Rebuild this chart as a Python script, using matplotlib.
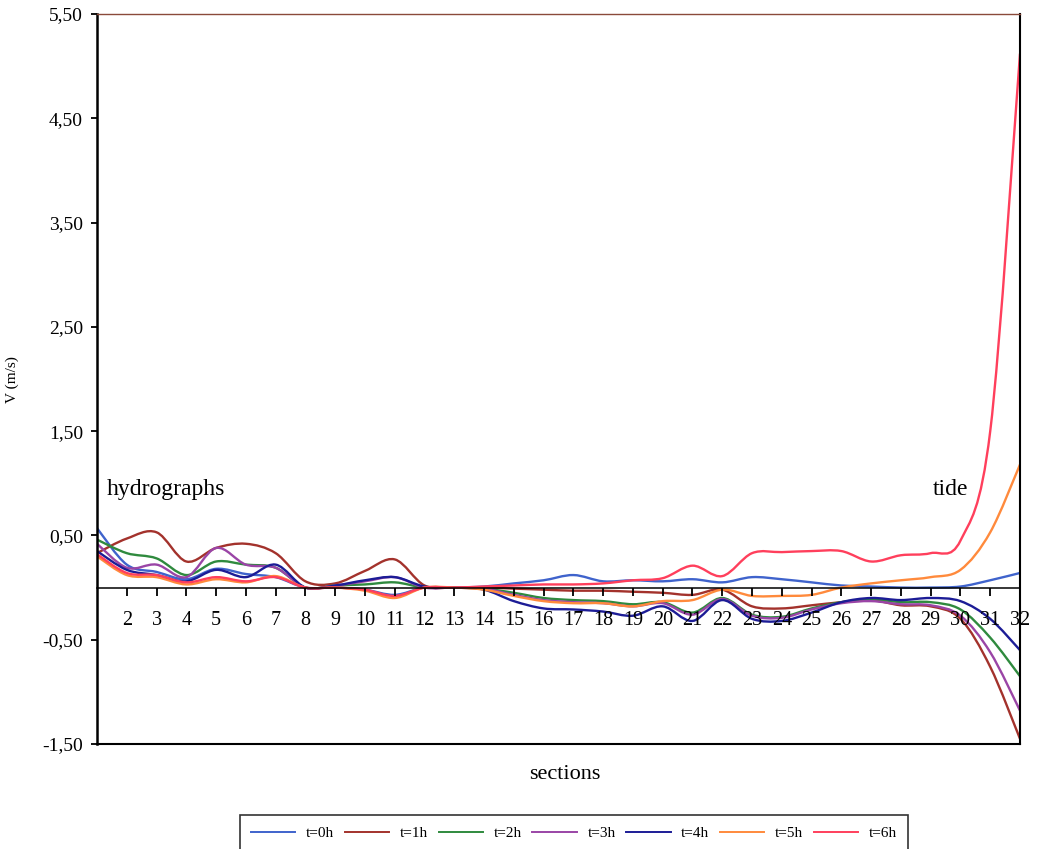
import numpy as np
import matplotlib.pyplot as plt
from matplotlib.path import Path
from matplotlib.patches import PathPatch
from matplotlib.lines import Line2D
from matplotlib.ticker import FuncFormatter

plt.rcParams['font.family'] = ['Liberation Serif', 'DejaVu Serif']

# sections along the channel
sections = np.arange(1, 33)

# velocity (m/s) per section
t0h = [0.57, 0.22, 0.15, 0.08, 0.18, 0.13, 0.10, 0.00, 0.00, -0.02, -0.07, 0.00, 0.00, 0.01, 0.04, 0.07,
       0.12, 0.06, 0.07, 0.06, 0.08, 0.05, 0.10, 0.08, 0.05, 0.02, 0.01, 0.00, 0.00, 0.01, 0.07, 0.14]
t1h = [0.33, 0.47, 0.53, 0.25, 0.38, 0.42, 0.33, 0.06, 0.04, 0.16, 0.27, 0.02, 0.00, 0.00, -0.01, -0.02,
       -0.03, -0.03, -0.04, -0.05, -0.07, -0.02, -0.18, -0.20, -0.17, -0.14, -0.12, -0.17, -0.18, -0.30, -0.76, -1.45]
t2h = [0.46, 0.33, 0.28, 0.12, 0.25, 0.22, 0.19, 0.00, 0.02, 0.03, 0.05, 0.00, 0.00, -0.01, -0.05, -0.10,
       -0.12, -0.13, -0.16, -0.14, -0.24, -0.10, -0.26, -0.28, -0.20, -0.14, -0.11, -0.14, -0.14, -0.21, -0.48, -0.85]
t3h = [0.42, 0.19, 0.22, 0.10, 0.38, 0.22, 0.19, 0.00, 0.02, 0.06, 0.10, 0.00, 0.00, -0.01, -0.07, -0.12,
       -0.14, -0.15, -0.18, -0.15, -0.26, -0.11, -0.27, -0.29, -0.21, -0.15, -0.13, -0.16, -0.17, -0.27, -0.62, -1.18]
t4h = [0.35, 0.17, 0.12, 0.06, 0.17, 0.10, 0.22, 0.00, 0.02, 0.07, 0.10, 0.01, 0.00, -0.02, -0.13, -0.20,
       -0.21, -0.23, -0.27, -0.18, -0.32, -0.12, -0.30, -0.32, -0.24, -0.14, -0.10, -0.12, -0.10, -0.13, -0.30, -0.60]
t5h = [0.30, 0.12, 0.10, 0.03, 0.08, 0.05, 0.11, 0.00, 0.00, -0.03, -0.10, 0.00, 0.00, -0.02, -0.08, -0.13,
       -0.15, -0.15, -0.18, -0.13, -0.12, -0.02, -0.08, -0.08, -0.07, 0.00, 0.04, 0.07, 0.10, 0.17, 0.53, 1.18]
t6h = [0.32, 0.14, 0.12, 0.05, 0.10, 0.06, 0.10, 0.00, 0.00, -0.02, -0.08, 0.00, 0.00, 0.01, 0.02, 0.03,
       0.03, 0.04, 0.07, 0.09, 0.21, 0.11, 0.33, 0.34, 0.35, 0.35, 0.25, 0.31, 0.33, 0.45, 1.50, 5.12]

series = [t0h, t1h, t2h, t3h, t4h, t5h, t6h]
names = ['t=0h', 't=1h', 't=2h', 't=3h', 't=4h', 't=5h', 't=6h']
colors = ['#3f63cc', '#a3322c', '#2f8a3e', '#9a45a6', '#1c1c96', '#ff8a3c', '#ff3f5c']

yticks = [-1.5, -0.5, 0.5, 1.5, 2.5, 3.5, 4.5, 5.5]


def smooth_path(x, y):
    # bezier through the points, like a spreadsheet "smoothed line"
    p = np.column_stack([x, y]).astype(float)
    n = len(p)
    verts = [p[0]]
    codes = [Path.MOVETO]
    for i in range(n - 1):
        p0 = p[max(i - 1, 0)]
        p1 = p[i]
        p2 = p[i + 1]
        p3 = p[min(i + 2, n - 1)]
        c1 = p1 + (p2 - p0) / 6.0
        c2 = p2 - (p3 - p1) / 6.0
        verts += [c1, c2, p2]
        codes += [Path.CURVE4] * 3
    return Path(verts, codes)


fig = plt.figure(figsize=(10.39, 8.49), dpi=100)
ax = fig.add_axes([97 / 1039, 1 - 744 / 849, 923 / 1039, 730 / 849])

for vals, c in zip(series, colors):
    ax.add_patch(PathPatch(smooth_path(sections, vals), fill=False, edgecolor=c, lw=1.7))

ax.set_xlim(1, 32)
ax.set_ylim(-1.5, 5.5)

# x axis through zero, frame line kept at the bottom
ax.spines['bottom'].set_position(('data', 0))
ax.spines['bottom'].set_linewidth(1.1)
ax.spines['left'].set_linewidth(1.8)
ax.spines['right'].set_linewidth(1.5)
ax.spines['top'].set_color('#8a4a3a')
ax.spines['top'].set_linewidth(1.0)
ax.axhline(-1.5, color='black', lw=1.5, clip_on=False)

ax.set_xticks(sections[1:])
ax.set_xticklabels([str(s) for s in sections[1:]])
ax.tick_params(axis='x', direction='out', length=6, width=1.3, pad=11, labelsize=14.5)

ax.set_yticks(yticks)
ax.yaxis.set_major_formatter(FuncFormatter(lambda v, p: f'{v:.2f}'.replace('.', ',')))
ax.tick_params(axis='y', direction='out', length=4, width=1.3, pad=6, labelsize=14)

fig.text(12 / 1039, 1 - 380 / 849, 'V (m/s)', rotation=90, ha='center', va='center', fontsize=11)
ax.text(0.507, -0.042, 'sections', transform=ax.transAxes, ha='center', va='center', fontsize=16)

ax.text(1.34, 0.94, 'hydrographs', ha='left', va='center', fontsize=17)
ax.text(29.66, 0.94, 'tide', ha='center', va='center', fontsize=17)

handles = [Line2D([], [], color=c, lw=1.4) for c in colors]
leg = fig.legend(handles, names, loc='center', bbox_to_anchor=(574 / 1039, 1 - 833 / 849), ncol=7,
                 fontsize=11, frameon=True, fancybox=False, edgecolor='black', handlelength=2.9,
                 handletextpad=0.7, columnspacing=0.7, borderpad=0.7)
leg.get_frame().set_linewidth(1.2)

fig.savefig('out.png', dpi=100)
